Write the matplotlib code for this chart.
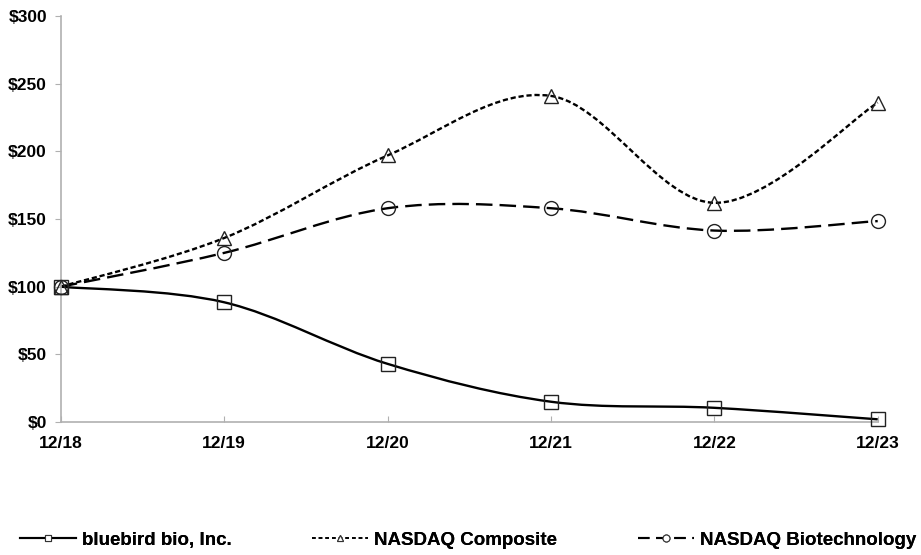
import numpy as np
import matplotlib.pyplot as plt
from matplotlib.path import Path
from matplotlib.patches import PathPatch
from matplotlib.lines import Line2D

plt.rcParams['font.family'] = ['Liberation Sans', 'DejaVu Sans']
plt.rcParams['font.weight'] = 'bold'

years = ["12/18", "12/19", "12/20", "12/21", "12/22", "12/23"]
bluebird = [100, 88.5, 43, 15, 10.5, 2]
nasdaq_comp = [100, 136, 197, 241, 162, 236]
nasdaq_bio = [100, 125, 158, 158, 141.5, 148.5]

y_ticks = [0, 50, 100, 150, 200, 250, 300]
labels = ["bluebird bio, Inc.", "NASDAQ Composite", "NASDAQ Biotechnology"]


def smooth_path(x, y):
    # Catmull-Rom style bezier, like spreadsheet "smoothed line"
    pts = np.column_stack([x, y]).astype(float)
    n = len(pts)
    verts = [pts[0]]
    codes = [Path.MOVETO]
    for i in range(n - 1):
        p0 = pts[i - 1] if i > 0 else pts[i]
        p1 = pts[i]
        p2 = pts[i + 1]
        p3 = pts[i + 2] if i + 2 < n else pts[i + 1]
        c1 = p1 + (p2 - p0) / 6.0
        c2 = p2 - (p3 - p1) / 6.0
        verts += [c1, c2, p2]
        codes += [Path.CURVE4] * 3
    return Path(verts, codes)


fig = plt.figure(figsize=(9.21, 5.55), dpi=100)
ax = fig.add_axes([0.066, 0.2396, 0.887, 0.7314])

x = np.arange(len(years))
series = [
    (bluebird, '-', 's'),
    (nasdaq_comp, (0, (2.2, 1.2)), '^'),
    (nasdaq_bio, (0, (7, 3)), 'o'),
]
for vals, ls, mk in series:
    patch = PathPatch(smooth_path(x, vals), facecolor='none', edgecolor='black',
                      linewidth=1.7, linestyle=ls, zorder=2, clip_on=False)
    ax.add_patch(patch)
    ax.plot(x, vals, linestyle='none', marker=mk, markersize=10,
            markerfacecolor='none', markeredgecolor='#222222',
            markeredgewidth=1.0, zorder=3, clip_on=False)

ax.set_xlim(0, 5)
ax.set_ylim(0, 300)
ax.set_xticks(x)
ax.set_xticklabels(years)
ax.set_yticks(y_ticks)
ax.set_yticklabels([f"${v}" for v in y_ticks])
ax.tick_params(axis='x', direction='in', length=4, color='#b0b0b0',
               labelsize=12.5, pad=10)
ax.tick_params(axis='y', direction='out', length=4, color='#b0b0b0',
               labelsize=12.5, pad=6)
for side in ['top', 'right']:
    ax.spines[side].set_visible(False)
for side in ['left', 'bottom']:
    ax.spines[side].set_color('#b0b0b0')
    ax.spines[side].set_linewidth(1.2)

handles = [
    Line2D([], [], color='black', linestyle='-', linewidth=1.5, marker='s',
           markersize=5, markerfacecolor='white', markeredgecolor='#333333', markeredgewidth=0.8),
    Line2D([], [], color='black', linestyle=(0, (2.2, 1.8)), linewidth=1.2, marker='^',
           markersize=5, markerfacecolor='white', markeredgecolor='#333333', markeredgewidth=0.8),
    Line2D([], [], color='black', linestyle=(0, (5.5, 3.2)), linewidth=1.5, marker='o',
           markersize=5, markerfacecolor='white', markeredgecolor='#333333', markeredgewidth=0.8),
]
leg_x = [20, 312, 638]
for h, lab, lx in zip(handles, labels, leg_x):
    leg = fig.legend([h], [lab], loc='center left', bbox_to_anchor=(lx / 921, 0.027),
                     frameon=False, fontsize=13.5, handlelength=3.0, handletextpad=0.3,
                     borderpad=0, borderaxespad=0)
    fig.add_artist(leg)

fig.savefig("out.png", dpi=100)
